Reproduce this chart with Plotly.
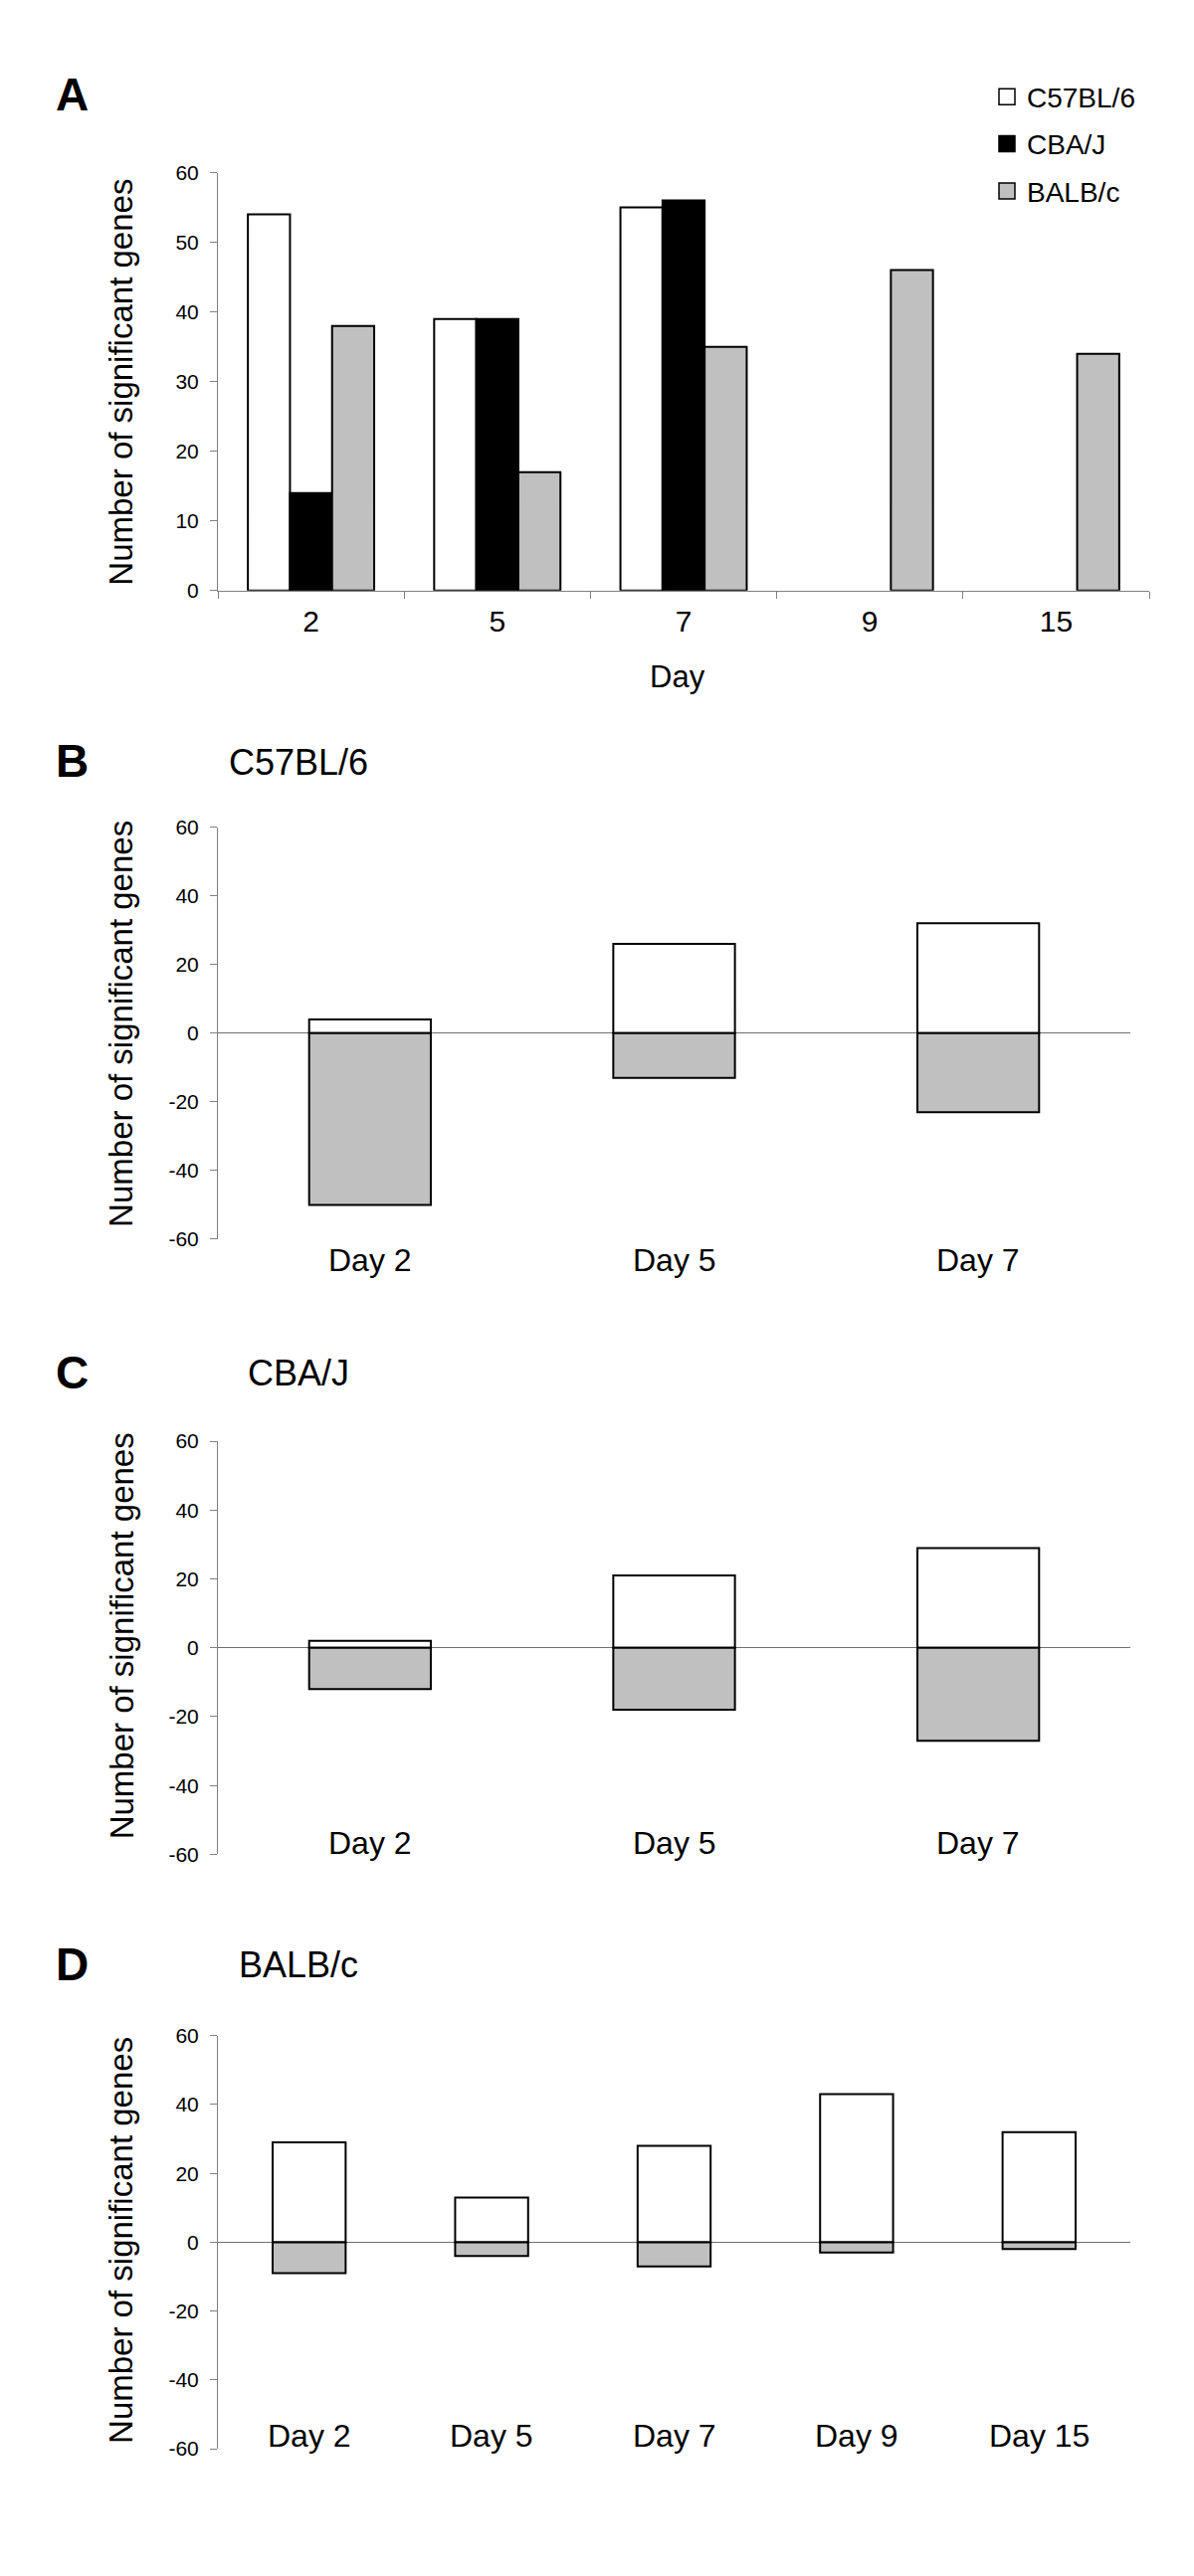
import plotly.graph_objects as go

# ---------------- data ----------------
days_a = ["2", "5", "7", "9", "15"]
c57_a = [54, 39, 55, None, None]
cba_a = [14, 39, 56, None, None]
balb_a = [38, 17, 35, 46, 34]

days_b = ["Day 2", "Day 5", "Day 7"]
up_b = [4, 26, 32]
down_b = [-50, -13, -23]

days_c = ["Day 2", "Day 5", "Day 7"]
up_c = [2, 21, 29]
down_c = [-12, -18, -27]

days_d = ["Day 2", "Day 5", "Day 7", "Day 9", "Day 15"]
up_d = [29, 13, 28, 43, 32]
down_d = [-9, -4, -7, -3, -2]

ticks_a = [0, 10, 20, 30, 40, 50, 60]
ticks_bcd = [-60, -40, -20, 0, 20, 40, 60]
ticktext_bcd = ["-60", "-40", "-20", "0", "20", "40", "60"]

strain_names = ["C57BL/6", "CBA/J", "BALB/c"]
panel_letters = ["A", "B", "C", "D"]
ytitle = "Number of significant genes"

# ---------------- style ----------------
W, H = 1200, 2590
FONT = "Liberation Sans, Arial, sans-serif"
GRAY_AX = "#808080"
FILL_W = "#FFFFFF"
FILL_K = "#000000"
FILL_G = "#C0C0C0"
OUTLINE = dict(color="#000000", width=2)


def px(x):
    return x / W


def py(y):
    return 1 - y / H


fig = go.Figure()

# Panel A grouped bars (explicit width/offset since barmode is global)
bw = 0.226
for vals, col, off in [(c57_a, FILL_W, -1.5 * bw), (cba_a, FILL_K, -0.5 * bw), (balb_a, FILL_G, 0.5 * bw)]:
    fig.add_trace(go.Bar(x=days_a, y=vals, width=bw, offset=off, marker=dict(color=col, line=OUTLINE),
                         xaxis="x", yaxis="y", showlegend=False))

# legend entries (square markers)
for name, col in zip(strain_names, [FILL_W, FILL_K, FILL_G]):
    fig.add_trace(go.Scatter(x=[None], y=[None], mode="markers", name=name, legendgroup=name,
                             marker=dict(symbol="square", size=16, color=col, line=dict(color="#000", width=1.5)),
                             xaxis="x", yaxis="y", showlegend=True))

# Panels B-D up/down bars
for i, (days, up, down) in enumerate([(days_b, up_b, down_b), (days_c, up_c, down_c), (days_d, up_d, down_d)]):
    k = str(i + 2)
    fig.add_trace(go.Bar(x=days, y=up, width=0.4, marker=dict(color=FILL_W, line=OUTLINE),
                         xaxis="x" + k, yaxis="y" + k, showlegend=False))
    fig.add_trace(go.Bar(x=days, y=down, width=0.4, marker=dict(color=FILL_G, line=OUTLINE),
                         xaxis="x" + k, yaxis="y" + k, showlegend=False))

yaxis_common = dict(showgrid=False, showline=True, linecolor=GRAY_AX, linewidth=1, ticks="outside",
                    ticklen=7, tickcolor=GRAY_AX, tickwidth=1, tickfont=dict(size=21, color="#000", family=FONT),
                    ticklabelstandoff=7, fixedrange=True)

layout = dict(
    width=W, height=H, margin=dict(l=0, r=0, t=0, b=0),
    paper_bgcolor="white", plot_bgcolor="white",
    barmode="overlay",
    font=dict(family=FONT, color="#000"),
    showlegend=True,
    legend=dict(x=px(992), xanchor="left", y=py(61), yanchor="top", font=dict(size=28, family=FONT),
                tracegroupgap=8, bgcolor="rgba(0,0,0,0)", itemsizing="trace"),
    xaxis=dict(domain=[px(219), px(1155)], anchor="y", type="category", range=[-0.5, 4.5],
               showgrid=False, showline=True, linecolor=GRAY_AX, linewidth=1, ticks="outside",
               tickson="boundaries", ticklen=7, tickcolor=GRAY_AX,
               tickfont=dict(size=30, family=FONT, color="#000"), ticklabelstandoff=4, fixedrange=True),
    yaxis=dict(domain=[py(587), py(163)], anchor="x", range=[0, 60], tickvals=ticks_a,
               zeroline=False, **yaxis_common),
)

doms = [(1245, 827), (1869, 1450), (2472, 2053)]
cats = [days_b, days_c, days_d]
for i, (bot, top) in enumerate(doms):
    k = str(i + 2)
    layout["xaxis" + k] = dict(domain=[px(219), px(1136)], anchor="y" + k, type="category",
                               range=[-0.5, len(cats[i]) - 0.5], showgrid=False, showline=False,
                               showticklabels=False, ticks="", zeroline=False, fixedrange=True)
    layout["yaxis" + k] = dict(domain=[py(bot), py(top)], anchor="x" + k, range=[-60, 60],
                               tickvals=ticks_bcd, ticktext=ticktext_bcd, zeroline=True,
                               zerolinecolor="#707070", zerolinewidth=1.2, **yaxis_common)

fig.update_layout(**layout)

ann = []
# panel letters
for letter, y in zip(panel_letters, [84, 760, 1380, 1981]):
    ann.append(dict(text="<b>" + letter + "</b>", x=px(72), y=py(y), xref="paper", yref="paper",
                    xanchor="center", yanchor="middle", showarrow=False, font=dict(size=46, family=FONT)))
# strain titles
for name, y in zip(strain_names, [761, 1381, 1981]):
    ann.append(dict(text=name, x=px(300), y=py(y), xref="paper", yref="paper", xanchor="center",
                    yanchor="middle", showarrow=False, font=dict(size=36, family=FONT)))
# y axis titles
for y in [376, 1027, 1648, 2261]:
    ann.append(dict(text=ytitle, x=px(122), y=py(y), xref="paper", yref="paper", textangle=-90,
                    xanchor="center", yanchor="middle", showarrow=False, font=dict(size=33, family=FONT)))
# x title panel A
ann.append(dict(text="Day", x=px(681), y=py(674), xref="paper", yref="paper", xanchor="center",
                yanchor="middle", showarrow=False, font=dict(size=31, family=FONT)))
# category labels panels B-D
for i, y in enumerate([1266, 1857, 2459]):
    k = str(i + 2)
    for d in cats[i]:
        ann.append(dict(text=d, x=d, xref="x" + k, y=py(y), yref="paper", xanchor="center",
                        yanchor="middle", showarrow=False, font=dict(size=32, family=FONT)))
fig.update_layout(annotations=ann)

fig.write_html("out.html", config={"displayModeBar": False},
               post_script="document.body.style.margin='0';")
